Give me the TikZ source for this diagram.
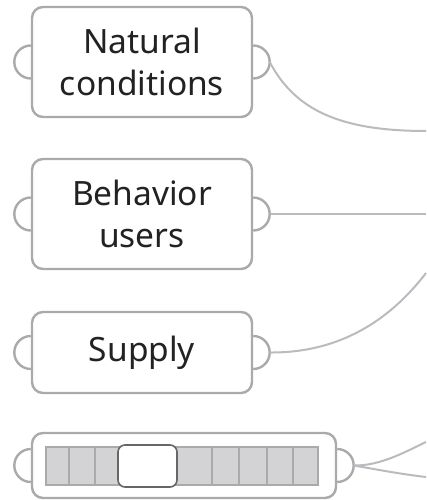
\documentclass[tikz,border=0pt]{standalone}
\usepackage{fontspec}
\setmainfont{Noto Sans}
\definecolor{rim}{HTML}{AAAAAC}
\definecolor{wire}{HTML}{BBBBBF}
\definecolor{cell}{HTML}{D3D3D5}
\definecolor{knob}{HTML}{666666}
\definecolor{ink}{HTML}{222222}
\tikzset{
  card/.style={draw=rim, line width=2.4pt, rounded corners=11pt, fill=white,
    text=ink, align=center, font=\fontsize{33.5}{42}\selectfont, inner sep=0pt},
  tab/.style={draw=rim, line width=2.4pt},
  wirestyle/.style={draw=wire, line width=2pt},
}
\begin{document}
\begin{tikzpicture}[x=1pt, y=-1pt]
\useasboundingbox (0,0) rectangle (426,500);

% parameter cards
\node[card, minimum width=220pt, minimum height=110pt] (nat) at (142,62) {Natural\\conditions};
\node[card, minimum width=220pt, minimum height=110pt] (beh) at (142,214) {Behavior\\users};
\node[card, minimum width=220pt, minimum height=81pt] (sup) at (142,352.5) {Supply};
\node[card, minimum width=304pt, minimum height=65pt] (sld) at (184,465.5) {};

% input / output tabs
\foreach \n in {nat,beh,sup,sld}{
  \draw[tab] ([yshift=16.5pt]\n.west) arc[start angle=90, end angle=270, radius=16.5pt];
  \draw[tab] ([yshift=16.5pt]\n.east) arc[start angle=90, end angle=-90, radius=16.5pt];
  \coordinate (\n-out) at ([xshift=16.5pt]\n.east);
}

% slider track
\fill[cell] (46,447) rectangle (318,485);
\draw[rim, line width=1.2pt] (46,447) rectangle (318,485);
\foreach \x in {69,95,122,212,239,267,293}
  \draw[rim, line width=1.2pt] (\x,447) -- (\x,485);
\node[draw=knob, fill=white, line width=1.6pt, rounded corners=7pt,
  minimum width=59pt, minimum height=42pt, inner sep=0pt] (knob) at (147.5,466) {};

% outgoing wires
\coordinate (e1) at (426,131);
\coordinate (e2) at (426,214);
\coordinate (e3) at (426,273);
\coordinate (e4) at (426,442);
\coordinate (e5) at (426,477);
\draw[wirestyle] (nat-out) .. controls (295,110) and (340,131) .. (e1);
\draw[wirestyle] (beh-out) -- (e2);
\draw[wirestyle] (sup-out) .. controls (340,353) and (390,320) .. (e3);
\draw[wirestyle] (sld-out) .. controls (380,466) and (405,452) .. (e4);
\draw[wirestyle] (sld-out) .. controls (380,470) and (400,474) .. (e5);
\end{tikzpicture}
\end{document}
